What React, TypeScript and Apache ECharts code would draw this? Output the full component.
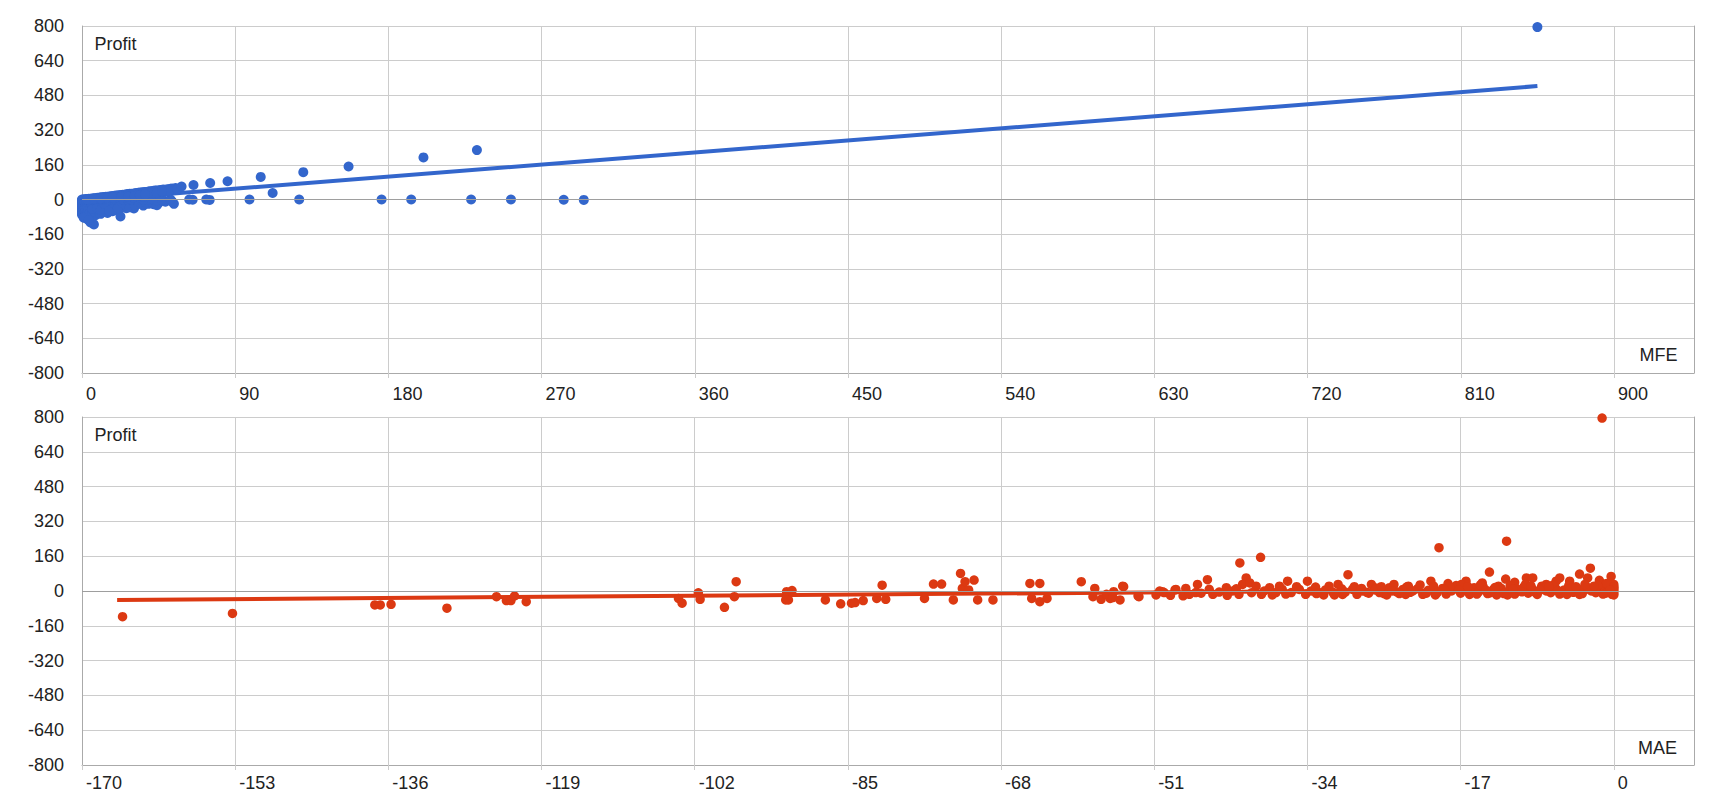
import React, { useEffect, useRef } from "react";
import * as echarts from "echarts";

const FONT = "'Liberation Sans', Arial, sans-serif";
const BLUE = "#3366cc";
const RED = "#dc3912";

// Tick labels
const mfeTicks = [0, 90, 180, 270, 360, 450, 540, 630, 720, 810, 900];
const profitTicks = [-800, -640, -480, -320, -160, 0, 160, 320, 480, 640, 800];
const maeTicks = [-170, -153, -136, -119, -102, -85, -68, -51, -34, -17, 0];

// Top chart: MFE vs Profit
const mfeWinners = [
  [1, 1], [2, 1], [3, 2], [4, 3], [5, 4], [6, 5], [7, 6], [8, 6], [9, 8], [10, 8], [11, 10], [12, 10],
  [13, 11], [14, 13], [15, 13], [16, 14], [17, 15], [18, 16], [19, 17], [20, 18], [21, 19], [22, 20],
  [23, 21], [24, 22], [25, 22], [26, 24], [27, 25], [28, 26], [29, 27], [30, 27], [31, 29], [32, 30],
  [33, 31], [34, 32], [35, 32], [36, 34], [37, 35], [38, 35], [39, 37], [40, 38], [41, 38], [42, 40],
  [43, 41], [44, 42], [45, 42], [46, 44], [47, 45], [48, 46], [50, 47], [52, 50], [53, 51], [55, 53],
  [5, 2], [8, 3], [10, 4], [14, 6], [16, 9], [19, 5], [22, 12], [25, 8], [28, 15], [30, 10], [33, 18],
  [36, 12], [40, 20], [43, 25], [46, 15], [20, 10], [12, 6], [26, 16], [35, 22], [38, 28], [41, 30],
  [49, 35], [51, 40], [56, 48], [3, 1], [7, 3], [11, 5], [15, 7], [18, 9], [23, 11], [27, 13],
  [31, 16], [34, 20], [37, 24], [44, 30], [47, 38],
];
const mfeBreakeven = [
  [0, 0], [2, 0], [4, -1], [6, 0], [9, -1], [12, 0], [15, -2], [18, 0], [21, -1], [24, 0], [27, -2],
  [31, 0], [34, 0], [38, -1], [42, 0], [44, -3], [47, -2], [52, 0], [1, -2], [8, 0], [29, 0], [36, -2],
];
const mfeLosers = [
  [0, -4], [0, -9], [0, -15], [0, -21], [0, -27], [0, -33], [0, -40], [0, -47], [0, -55], [0, -63], [0, -70],
  [1, -12], [1, -30], [1, -50], [1, -66], [2, -8], [2, -22], [2, -42], [2, -58], [2, -74], [3, -16],
  [3, -36], [3, -90], [3, -62], [4, -28], [4, -48], [4, -70], [5, -106], [5, -12], [5, -40], [5, -58],
  [6, -24], [6, -66], [7, -115], [7, -34], [7, -52], [8, -18], [8, -44], [8, -72], [9, -28], [9, -60],
  [10, -14], [10, -38], [10, -54], [11, -24], [11, -66], [12, -44], [12, -8], [13, -32], [13, -58],
  [14, -20], [14, -48], [15, -36], [15, -62], [16, -10], [16, -28], [17, -44], [18, -22], [18, -54],
  [19, -34], [20, -14], [20, -46], [21, -28], [22, -41], [22.6, -78], [23, -20], [24, -34], [25, -12],
  [26, -40], [27, -24], [28, -8], [29, -30], [30.5, -41], [30, -16], [32, -24], [33, -6], [35, -18],
  [36, -28], [37, -10], [39, -20], [41, -8], [43, -14], [45, -16], [46, -6], [49, -10], [54, -20], [53, -10],
  [1, -84], [4, -96], [6, -44], [9, -40], [11, -48], [13, -20], [16, -52], [19, -18], [21, -40],
  [24, -16], [26, -30], [28, -36], [31, -28], [34, -12], [42, -22], [44, -26],
];
const mfeOutliers = [
  [58.5, 60], [65.5, 67], [75.3, 76], [85.5, 84], [105, 104], [112, 30], [130, 126], [156.6, 152],
  [200.6, 194], [232, 228], [855, 795],
  [63, 0], [65, -1], [73, 0], [75, -2], [98.4, 0], [127.6, 0], [176, 0], [193.4, 0], [228.6, 0],
  [252, 0], [283, -1], [294.8, -2],
];
const mfeTrend = [[0, -6], [855, 523]];

// Bottom chart: MAE vs Profit
const maeSparse = [
  [-165.5, -118], [-153.3, -103], [-137.5, -64], [-136.9, -64], [-135.7, -61], [-129.5, -79],
  [-124, -26], [-122.9, -44], [-122.4, -44], [-122, -23], [-120.7, -49],
  [-103.8, -34], [-103.4, -56], [-101.6, -8], [-101.4, -38], [-98.7, -75], [-97.6, -26], [-97.4, 43],
  [-91.8, -3], [-91.6, -41], [-91.2, 2], [-91.9, -41], [-87.5, -41], [-85.8, -59], [-84.6, -56],
  [-84.2, -53], [-83.3, -44], [-81.8, -34], [-81.2, 27], [-80.8, -38], [-76.5, -34], [-75.5, 32],
  [-74.6, 32], [-73.3, -41], [-72.5, 81], [-72.3, 12], [-72, 43], [-71.6, 5], [-71, 50], [-70.6, -41],
  [-68.9, -41], [-64.8, 35], [-63.7, 35], [-64.6, -34], [-63.7, -49], [-62.9, -34],
];
const maeMid = [
  [-59.1, 43], [-57.6, 12], [-57.8, -26], [-56.9, -38], [-55.9, -34], [-55.5, -3], [-54.4, 20],
  [-54.8, -41], [-56.3, -15], [-55.6, -30], [-54.5, 22], [-52.8, -22], [-52.7, -26], [-50.8, -18],
  [-50.1, -3], [-48.7, 5], [-50.4, 0], [-49.9, -7], [-48.6, 7], [-47.8, -22], [-47.1, -15], [-46.2, 30],
  [-46.4, -7], [-45.1, 52], [-44.5, -15], [-43, 15], [-42.3, 0], [-41.5, 129], [-39.2, 155], [-40.8, 60],
  [-41.2, 30], [-41.6, -15], [-40.4, 37], [-39.7, 22], [-39.1, -15], [-38.2, 15], [-37.5, -7],
  [-36.8, 7], [-36.2, 45], [-35.8, -7], [-34.9, 7], [-34, 45], [-34.2, -15], [-32.7, -7], [-31.6, 22],
  [-30.6, 30], [-29.5, 75], [-29, 7], [-27.9, 0], [-26.9, 30], [-26, -7], [-24.9, 15], [-24.4, 30],
  [-23.4, 7], [-22.3, 0],
  [-49.2, -20], [-47.5, 12], [-45.8, -10], [-44.9, 8], [-43.8, -5], [-42.9, -20], [-41.9, 10],
  [-40.2, -8], [-38.8, 0], [-37.9, -18], [-37.1, 22], [-36.4, -14], [-35.2, 20], [-33.6, 0],
  [-33.1, 18], [-32.2, -18], [-31.2, -5], [-30.1, -16], [-28.8, 20], [-27.4, -6], [-26.4, 14],
  [-25.5, -12], [-24.1, -4], [-23.1, -16], [-22.8, 22],
];
const maeNearZero = [
  [-20.3, 45], [-19.4, 199], [-18.4, 34], [-16.4, 45], [-14.6, 37], [-13.8, 87], [-11.9, 229],
  [-12, 55], [-11, 40], [-9.7, 60], [-9, 60], [-7.5, 30], [-6.4, 45], [-6, 60], [-4.9, 45], [-3.8, 78],
  [-2.9, 60], [-2.6, 105], [-1.6, 49], [-1.3, 795], [-0.3, 67],
  [-33, -12], [-32, 5], [-31, -18], [-30.2, 10], [-29.8, -5], [-28.5, -15], [-28, 12], [-27.2, -10],
  [-26.5, 5], [-25.8, 20], [-25.2, -18], [-24.6, 0], [-23.8, -12], [-23, 18], [-22.6, -6], [-21.8, 10],
  [-21.2, -15], [-20.6, 3], [-20, 22], [-19.6, -8], [-19, 12], [-18.6, -14], [-18, 0], [-17.5, 25],
  [-17, -10], [-16.6, 8], [-16, -16], [-15.5, 15], [-15, -4], [-14.5, 20], [-14, -12], [-13.4, 5],
  [-13, -18], [-12.5, 12], [-12, -6], [-11.5, 25], [-11, -14], [-10.5, 2], [-10, 18], [-9.5, -10],
  [-9, 8], [-8.5, -16], [-8, 22], [-7.5, 0], [-7, -8], [-6.5, 14], [-6, -14], [-5.5, 5], [-5, 25],
  [-4.5, -6], [-4, 10], [-3.5, -12], [-3, 18], [-2.5, 0], [-2, -8], [-1.5, 12], [-1, -4], [-0.5, 20],
  [0, 0], [0, 8], [0, -10], [0, 15], [0, 30], [-0.8, 35], [-0.2, -15],
  [-21.5, 28], [-19.8, -18], [-18.2, 18], [-16.9, 30], [-15.8, -6], [-14.8, 28], [-13.7, -8],
  [-12.8, 22], [-11.8, -18], [-10.8, 10], [-9.8, 30], [-8.8, -4], [-7.8, 12], [-6.8, 26], [-5.8, -8],
  [-4.8, 12], [-3.8, -16], [-2.8, 8], [-1.8, 26], [-0.9, -10], [0, -18], [0, 20], [-0.4, 4],
  [-1.2, -14], [-2.2, 22], [-3.2, 30], [-4.2, 20], [-5.2, -16], [-6.2, 2], [-7.2, 20], [-8.2, 4],
  [-9.2, 24], [-10.2, -4], [-11.2, 8], [-12.2, -12], [-13.2, 16], [-14.2, 4], [-15.2, -14],
  [-16.2, 20], [-17.2, 4], [-18.8, 6], [-20.8, -10],
];
const maeTrend = [[-166.1, -41], [0, 9]];

function xAxisCfg(grid: number, min: number, max: number, interval: number, ticks: number[], margin: number) {
  return {
    type: "value",
    gridIndex: grid,
    min,
    max,
    interval,
    axisLine: { show: true, onZero: false, lineStyle: { color: "#aaaaaa", width: 1 } },
    axisTick: { show: true, length: 5, customValues: ticks, lineStyle: { color: "#cccccc" } },
    axisLabel: {
      customValues: ticks,
      align: "left",
      verticalAlign: "top",
      padding: [0, 0, 0, 4],
      margin,
      fontSize: 18,
      fontFamily: FONT,
      color: "#222222",
    },
    splitLine: { show: true, lineStyle: { color: "#cccccc", width: 1 } },
  };
}

function yAxisLeft(grid: number) {
  return {
    type: "value",
    gridIndex: grid,
    min: -800,
    max: 800,
    interval: 160,
    axisLine: { show: true, onZero: false, lineStyle: { color: "#aaaaaa", width: 1 } },
    axisTick: { show: false },
    axisLabel: {
      customValues: profitTicks,
      margin: 18,
      fontSize: 18,
      fontFamily: FONT,
      color: "#222222",
    },
    splitLine: { show: true, lineStyle: { color: "#cccccc", width: 1 } },
  };
}

function yAxisRight(grid: number) {
  return {
    type: "value",
    gridIndex: grid,
    position: "right",
    min: -800,
    max: 800,
    interval: 160,
    axisLine: { show: true, onZero: false, lineStyle: { color: "#aaaaaa", width: 1 } },
    axisTick: { show: false },
    axisLabel: { show: false },
    splitLine: { show: false },
  };
}

const zeroLine = {
  silent: true,
  symbol: ["none", "none"],
  label: { show: false },
  lineStyle: { color: "#9e9e9e", type: "solid", width: 1 },
  data: [{ yAxis: 0 }],
};

function textEl(text: string, x: number, y: number) {
  return {
    type: "text",
    x,
    y,
    silent: true,
    style: {
      text,
      fontSize: 18,
      fontFamily: FONT,
      fill: "#222222",
      align: "left",
      verticalAlign: "middle",
    },
  };
}

export default function App() {
  const ref = useRef<HTMLDivElement>(null);
  useEffect(() => {
    if (!ref.current) return;
    const chart = echarts.init(ref.current, null, { renderer: "svg" });
    const topPoints = [...mfeLosers, ...mfeBreakeven, ...mfeWinners, ...mfeOutliers];
    const bottomPoints = [...maeSparse, ...maeMid, ...maeNearZero];
    chart.setOption({
      animation: false,
      textStyle: { fontFamily: FONT },
      grid: [
        { left: 82, top: 26, width: 1612, height: 347 },
        { left: 82, top: 417, width: 1612, height: 348 },
      ],
      xAxis: [
        xAxisCfg(0, 0, 947, 90, mfeTicks, 12),
        xAxisCfg(1, -170, 8.9, 17, maeTicks, 9),
      ],
      yAxis: [yAxisLeft(0), yAxisRight(0), yAxisLeft(1), yAxisRight(1)],
      series: [
        {
          type: "line",
          xAxisIndex: 0,
          yAxisIndex: 0,
          data: mfeTrend,
          symbol: "none",
          lineStyle: { color: BLUE, width: 4 },
          z: 2,
        },
        {
          type: "scatter",
          xAxisIndex: 0,
          yAxisIndex: 0,
          data: topPoints,
          symbolSize: 10,
          itemStyle: { color: BLUE, opacity: 1 },
          markLine: zeroLine,
          z: 3,
        },
        {
          type: "line",
          xAxisIndex: 1,
          yAxisIndex: 2,
          data: maeTrend,
          symbol: "none",
          lineStyle: { color: RED, width: 4 },
          z: 2,
        },
        {
          type: "scatter",
          xAxisIndex: 1,
          yAxisIndex: 2,
          data: bottomPoints,
          symbolSize: 9.5,
          itemStyle: { color: RED, opacity: 1 },
          markLine: zeroLine,
          z: 3,
        },
      ],
      graphic: [
        textEl("Profit", 94.5, 44.3),
        textEl("MFE", 1639.4, 355),
        textEl("Profit", 94.5, 435),
        textEl("MAE", 1638, 748),
      ],
    });
    return () => chart.dispose();
  }, []);
  return (
    <div
      ref={ref}
      style={{ position: "absolute", left: 0, top: 0, width: 1720, height: 800, background: "#ffffff" }}
    />
  );
}
